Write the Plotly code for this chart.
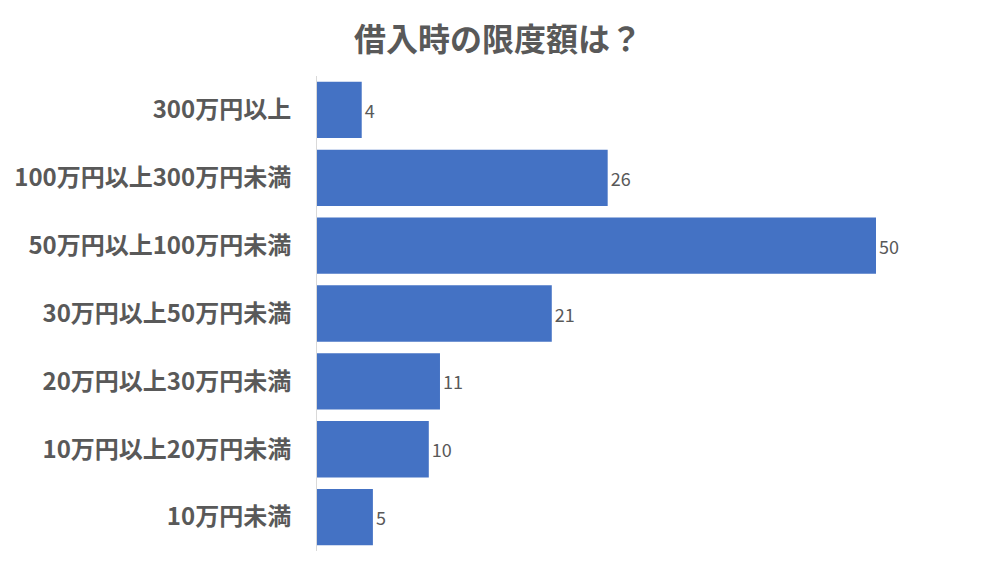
import plotly.graph_objects as go

# categories listed bottom -> top (plotly draws the first one at the bottom)
categories = [
    "10万円未満",
    "10万円以上20万円未満",
    "20万円以上30万円未満",
    "30万円以上50万円未満",
    "50万円以上100万円未満",
    "100万円以上300万円未満",
    "300万円以上",
]
counts = [5, 10, 11, 21, 50, 26, 4]

GREY = "#595959"
FONT = "Noto Sans CJK JP"

fig = go.Figure(go.Bar(
    x=counts,
    y=categories,
    orientation="h",
    marker=dict(color="#4472C4", line=dict(width=0)),
    text=counts,
    textposition="outside",
    textfont=dict(family=FONT, size=18, color=GREY),
    cliponaxis=False,
))

# page has an 8px body margin, so margins are shifted to compensate
fig.update_layout(
    title=dict(text="<b>借入時の限度額は？</b>", x=0.49, xanchor="center", y=0.943, yanchor="middle",
               font=dict(family=FONT, size=32, color=GREY)),
    width=1000, height=562,
    margin=dict(l=309, r=132, t=68, b=19),
    plot_bgcolor="white", paper_bgcolor="white",
    bargap=0.17,
    showlegend=False,
    xaxis=dict(range=[0, 50], visible=False),
    yaxis=dict(showline=True, linecolor="#D9D9D9", linewidth=1, ticks="", showgrid=False,
               automargin=False, ticklabelstandoff=20,
               tickfont=dict(family=FONT, size=24, color=GREY, weight="bold")),
)

fig.write_html("out.html")
